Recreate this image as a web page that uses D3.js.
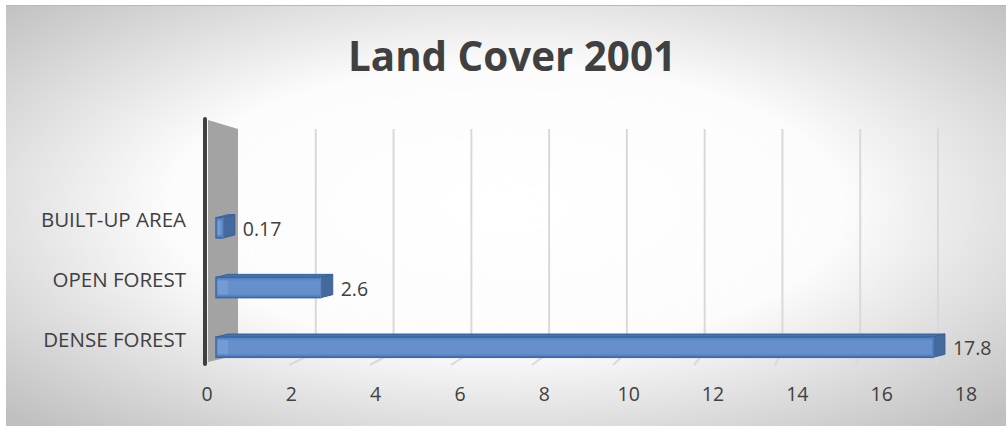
<!DOCTYPE html>
<html>
<head>
<meta charset="utf-8">
<script src="https://cdn.jsdelivr.net/npm/d3@7"></script>
<style>
  html, body { margin: 0; padding: 0; background: #fff; }
  svg { display: block; }
  text { font-family: "Open Sans", "Liberation Sans", sans-serif; fill: #404040; }
</style>
</head>
<body>
<svg id="chart" width="1006" height="426"></svg>
<script>
// Land cover figures for 2001
const categories = ["DENSE FOREST", "OPEN FOREST", "BUILT-UP AREA"];
const values = [17.8, 2.6, 0.17];
const valueLabels = ["17.8", "2.6", "0.17"];
const tickValues = [0, 2, 4, 6, 8, 10, 12, 14, 16, 18];
const title = "Land Cover 2001";

const W = 1006, H = 426;
const svg = d3.select("#chart");
const defs = svg.append("defs");

// soft radial background for the chart area
const bg = defs.append("radialGradient").attr("id", "bg")
  .attr("cx", "50%").attr("cy", "48%").attr("r", "70%")
  .attr("gradientUnits", "objectBoundingBox");
bg.append("stop").attr("offset", "0%").attr("stop-color", "#ffffff");
bg.append("stop").attr("offset", "48%").attr("stop-color", "#fcfcfc");
bg.append("stop").attr("offset", "100%").attr("stop-color", "#c0c0c0");

svg.append("rect").attr("x", 6).attr("y", 5).attr("width", W - 6).attr("height", H - 5)
  .attr("fill", "url(#bg)");
svg.append("line").attr("x1", 6).attr("x2", W).attr("y1", 5.5).attr("y2", 5.5)
  .attr("stroke", "#b8b8b8").attr("stroke-width", 1);

// title
svg.append("text").attr("x", 512).attr("y", 71)
  .attr("text-anchor", "middle")
  .attr("font-size", 41).attr("font-weight", "bold")
  .attr("textLength", 328).attr("lengthAdjust", "spacingAndGlyphs")
  .style("fill", "#404040")
  .text(title);

// scales: back wall, front floor edge, bars (mid depth) and tick labels
const xMax = 18;
const xBack = d3.scaleLinear().domain([0, xMax]).range([238, 938]);
const xFront = d3.scaleLinear().domain([0, xMax]).range([208, 937]);
const xBar = d3.scaleLinear().domain([0, xMax]).range([216, 941]);
const xTick = d3.scaleLinear().domain([0, xMax]).range([207, 966]);
const yBand = d3.scaleBand().domain(categories).range([377, 198]).padding(0);
const barH = yBand.bandwidth() * 0.34;

const backTop = 129, backBottom = 352, frontBottom = 365;

// side wall
svg.append("polygon")
  .attr("points", [[208, 120], [xBack(0), backTop], [xBack(0), backBottom + 3], [208, 362]].join(" "))
  .attr("fill", "#a3a3a3");

// gridlines on back wall and floor
const grid = svg.append("g");
tickValues.filter(v => v > 0).forEach(v => {
  grid.append("line")
    .attr("x1", xBack(v)).attr("x2", xBack(v))
    .attr("y1", backTop).attr("y2", backBottom)
    .attr("stroke", "#d9d9d9").attr("stroke-width", 2);
  grid.append("line")
    .attr("x1", xBack(v)).attr("y1", backBottom)
    .attr("x2", xFront(v)).attr("y2", frontBottom)
    .attr("stroke", "#d9d9d9").attr("stroke-width", 2);
});

// vertical axis line
svg.append("line").attr("x1", 205).attr("x2", 205).attr("y1", 119).attr("y2", 364)
  .attr("stroke", "#404040").attr("stroke-width", 4).attr("stroke-linecap", "round");

// 3D bars
const dx = 12, dy = -3;
const frontGrad = defs.append("linearGradient").attr("id", "barFront")
  .attr("x1", 0).attr("x2", 0).attr("y1", 0).attr("y2", 1);
frontGrad.append("stop").attr("offset", "0%").attr("stop-color", "#4f7fc0");
frontGrad.append("stop").attr("offset", "20%").attr("stop-color", "#6590cc");
frontGrad.append("stop").attr("offset", "80%").attr("stop-color", "#6590cc");
frontGrad.append("stop").attr("offset", "100%").attr("stop-color", "#4a78b8");

const bars = svg.append("g");
categories.forEach((c, i) => {
  const v = values[i];
  const yc = yBand(c) + yBand.bandwidth() / 2;
  const y0 = yc - barH / 2, y1 = yc + barH / 2;
  const x0 = xBar(0), x1 = xBar(v);
  const g = bars.append("g");
  // top face
  g.append("polygon")
    .attr("points", [[x0, y0], [x1, y0], [x1 + dx, y0 + dy], [x0 + dx, y0 + dy]].join(" "))
    .attr("fill", "#4673b0").attr("stroke", "#35619c").attr("stroke-width", 1);
  // front face
  g.append("rect").attr("x", x0).attr("y", y0).attr("width", x1 - x0).attr("height", barH)
    .attr("fill", "url(#barFront)").attr("stroke", "#3a68a6").attr("stroke-width", 1.5);
  // lighter strip near the start of the bar
  g.append("rect").attr("x", x0 + 2).attr("y", y0 + 3).attr("width", Math.min(10, (x1 - x0) * 0.35)).attr("height", barH - 6)
    .attr("fill", "#7ea3d6").attr("opacity", 0.6);
  // end face
  g.append("polygon")
    .attr("points", [[x1, y0], [x1 + dx, y0 + dy], [x1 + dx, y1 + dy], [x1, y1]].join(" "))
    .attr("fill", "#44699c").attr("stroke", "#35619c").attr("stroke-width", 1);
  g.append("line").attr("x1", x1).attr("x2", x1).attr("y1", y0).attr("y2", y1)
    .attr("stroke", "#6e94c8").attr("stroke-width", 1);

  // data label
  svg.append("text").attr("x", x1 + dx + 8).attr("y", yc + 3)
    .attr("dominant-baseline", "middle")
    .attr("font-size", 19.5).text(valueLabels[i]);

  // category label
  svg.append("text").attr("x", 186).attr("y", yc - 6)
    .attr("text-anchor", "end").attr("dominant-baseline", "middle")
    .attr("font-size", 20.5).text(c);
});

// value axis tick labels
svg.append("g").selectAll("text").data(tickValues).join("text")
  .attr("x", d => xTick(d)).attr("y", 396)
  .attr("text-anchor", "middle").attr("dominant-baseline", "middle")
  .attr("font-size", 19.5).text(d => d);
</script>
</body>
</html>
